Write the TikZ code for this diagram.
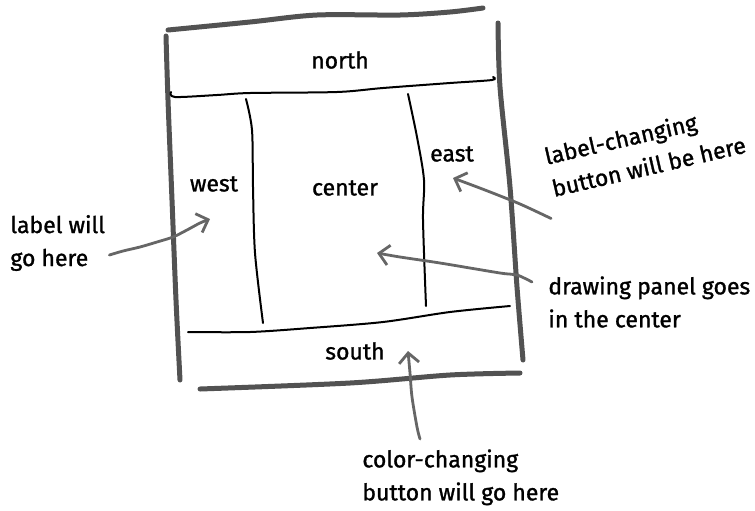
\documentclass[tikz,border=0pt]{standalone}
\usepackage{fontspec}
\setmainfont{Fira Sans}[FakeBold=1.2]
\usetikzlibrary{arrows.meta, positioning}

\begin{document}
\begin{tikzpicture}[x=0.5pt, y=-0.5pt,
    font=\fontsize{11.5}{16.5}\selectfont,
    frame/.style={line width=2.5pt, draw=black!68, line cap=round},
    sep/.style={line width=1pt, black, line cap=round},
    pointer/.style={line width=1.4pt, draw=black!60, line cap=round, line join=round,
      -{Straight Barb[length=5pt, width=10pt, line width=1.4pt]}},
    region/.style={inner sep=2pt},
    note/.style={align=left, inner sep=2pt}]

  \useasboundingbox (0,0) rectangle (755,510);

  % --- outer frame (thick grey strokes) ---
  \draw[frame] plot[smooth, tension=0.5] coordinates {(168,30) (250,22) (317,15) (400,15) (450,12) (483,8)};
  \draw[frame] plot[smooth, tension=0.5] coordinates {(166,36) (168,100) (172,200) (176,300) (180,380)};
  \draw[frame] plot[smooth, tension=0.5] coordinates {(498,23) (500,87) (510,187) (517,287) (523,360)};
  \draw[frame] plot[smooth, tension=0.5] coordinates {(200,389) (350,383) (450,375) (520,373)};

  % --- region borders (thin black, hand drawn) ---
  \draw[sep] plot[smooth, tension=0.5] coordinates {(171,92) (175,97) (217,95) (250,93) (337,92) (383,88) (450,83) (492,80) (493,77)};
  \draw[sep] plot[smooth, tension=0.5] coordinates {(246,99) (252,130) (253,187) (255,253) (263,323)};
  \draw[sep] plot[smooth, tension=0.5] coordinates {(408,94) (417,137) (424,180) (423,220) (426,306)};
  \draw[sep] plot[smooth, tension=0.5] coordinates {(188,332) (250,332) (310,328) (383,322) (450,312) (510,306)};

  % --- region names ---
  \node[region] (north) at (340,60) {north};
  \node[region] (west) at (214,184) {west};
  \node[region] (center) at (345,188) {center};
  \node[region] (east) at (452,154) {east};
  \node[region] (south) at (355,351) {south};

  % --- notes round the frame ---
  \node[note, anchor=west] (labelnote) at (6,243) {label will\\go here};
  \node[note, rotate=13] (eastnote) at (645,150) {label-changing\\button will be here};
  \node[note, anchor=north west] (drawnote) at (544,272) {drawing panel goes\\in the center};
  \node[note, anchor=north west] (colornote) at (358,445) {color-changing\\button will go here};

  % --- where each thing goes ---
  \coordinate (westspot) at (210,219);
  \coordinate (eastspot) at (453,178);
  \coordinate (centerspot) at (377,253);
  \coordinate (southspot) at (408,351);

  \draw[pointer] plot[smooth, tension=0.5] coordinates {([yshift=-6pt]labelnote.east) (123,251) (140,247) (157,242) (173,237) (187,230) (200,223) (westspot)};
  \draw[pointer] plot[smooth, tension=0.5] coordinates {([yshift=-8pt]eastnote.south west) (520,204) (485,190) (eastspot)};
  \draw[pointer] plot[smooth, tension=0.5] coordinates {([xshift=-6pt,yshift=-5pt]drawnote.north west) (517,275) (500,273) (440,263) (400,257) (centerspot)};
  \draw[pointer] plot[smooth, tension=0.5] coordinates {([xshift=31pt,yshift=3pt]colornote.north west) (417,427) (412,397) (410,373) (southspot)};

\end{tikzpicture}
\end{document}
